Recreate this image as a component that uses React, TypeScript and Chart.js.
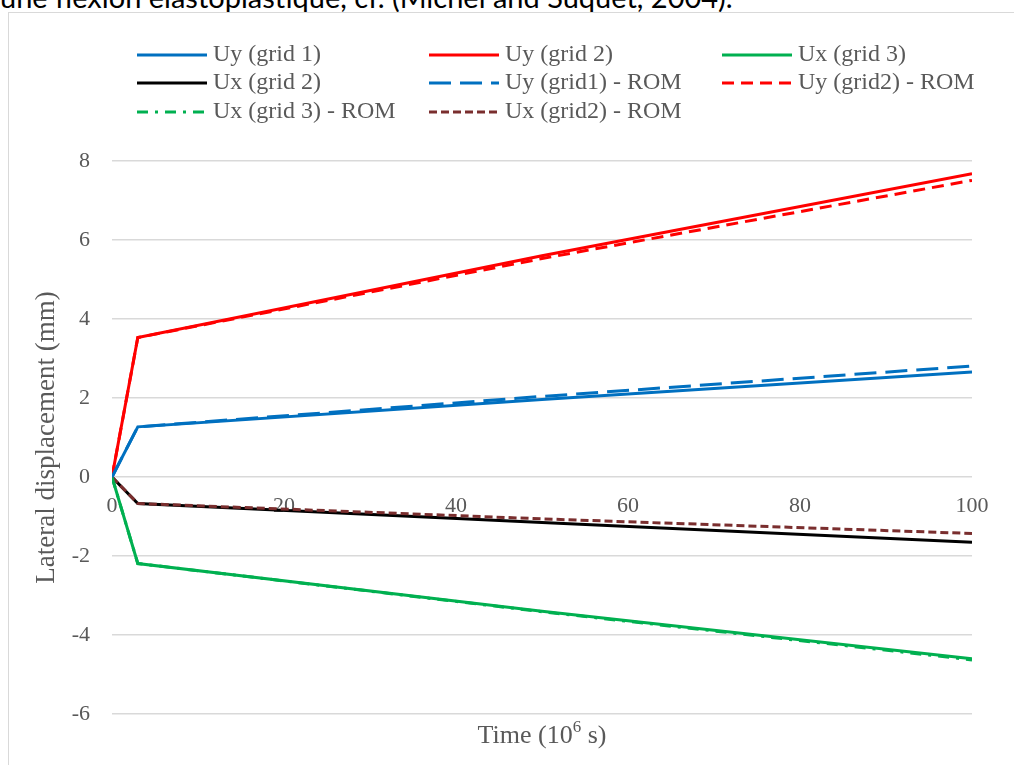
import React, { useEffect, useRef } from "react";
import { Chart, registerables } from "chart.js";

Chart.register(...registerables);

// ---- data ----
const TIMES = [0, 3, 50, 100];
const UY_GRID1 = [0, 1.27, 1.96, 2.66];
const UY_GRID2 = [0, 3.53, 5.6, 7.68];
const UX_GRID3 = [0, -2.19, -3.4, -4.6];
const UX_GRID2 = [0, -0.67, -1.15, -1.65];
const UY_GRID1_ROM = [0, 1.27, 2.04, 2.81];
const UY_GRID2_ROM = [0, 3.53, 5.53, 7.51];
const UX_GRID3_ROM = [0, -2.19, -3.41, -4.63];
const UX_GRID2_ROM = [0, -0.67, -1.06, -1.43];

const SERIES_LABELS = [
  "Uy (grid 1)",
  "Uy (grid 2)",
  "Ux (grid 3)",
  "Ux (grid 2)",
  "Uy (grid1) - ROM",
  "Uy (grid2) - ROM",
  "Ux (grid 3) - ROM",
  "Ux (grid2) - ROM",
];

const X_MIN = 0;
const X_MAX = 100;
const X_STEP = 20;
const Y_MIN = -6;
const Y_MAX = 8;
const Y_STEP = 2;

const X_TITLE_MAIN = "Time (10";
const X_TITLE_SUP = "6";
const X_TITLE_END = " s)";
const Y_TITLE = "Lateral displacement (mm)";
const PAGE_TEXT = "une flexion élastoplastique, cf. (Michel and Suquet, 2004).";

// ---- styles ----
const SERIF = "'Liberation Serif', 'Times New Roman', serif";
const TEXT_COLOR = "#595959";
const GRID_COLOR = "#d9d9d9";

const STYLES = [
  { color: "#0070C0", dash: [] as number[], order: 2 },
  { color: "#FF0000", dash: [], order: 2 },
  { color: "#00B050", dash: [], order: 2 },
  { color: "#000000", dash: [], order: 2 },
  { color: "#0070C0", dash: [22, 9], order: 1 },
  { color: "#FF0000", dash: [12, 7], order: 1 },
  { color: "#00B050", dash: [11, 7, 3, 7], order: 1 },
  { color: "#7a2e2e", dash: [8, 4], order: 1 },
];

const LEGEND_LINE_X = [137, 429, 722];
const LEGEND_ROW_Y = [55, 83, 112];

const overlayPlugin = {
  id: "overlay",
  afterDraw(chart: any) {
    const ctx = chart.ctx as CanvasRenderingContext2D;
    ctx.save();
    chart.data.datasets.forEach((ds: any, i: number) => {
      const col = i % 3;
      const row = Math.floor(i / 3);
      const x0 = LEGEND_LINE_X[col];
      const y = LEGEND_ROW_Y[row];
      ctx.beginPath();
      ctx.setLineDash(ds.borderDash || []);
      ctx.lineWidth = ds.borderWidth;
      ctx.strokeStyle = ds.borderColor;
      ctx.lineCap = "butt";
      ctx.moveTo(x0, y);
      ctx.lineTo(x0 + 70, y);
      ctx.stroke();
      ctx.setLineDash([]);
      ctx.fillStyle = TEXT_COLOR;
      ctx.font = `24px ${SERIF}`;
      ctx.textBaseline = "middle";
      ctx.textAlign = "left";
      ctx.fillText(ds.label, x0 + 76, y);
    });

    // x axis title with superscript
    const area = chart.chartArea;
    const cx = (area.left + area.right) / 2;
    const cy = 736;
    const bigFont = `26px ${SERIF}`;
    const smallFont = `17px ${SERIF}`;
    ctx.font = bigFont;
    const w1 = ctx.measureText(X_TITLE_MAIN).width;
    const w3 = ctx.measureText(X_TITLE_END).width;
    ctx.font = smallFont;
    const w2 = ctx.measureText(X_TITLE_SUP).width;
    let x = cx - (w1 + w2 + w3) / 2;
    ctx.fillStyle = TEXT_COLOR;
    ctx.textBaseline = "middle";
    ctx.textAlign = "left";
    ctx.font = bigFont;
    ctx.fillText(X_TITLE_MAIN, x, cy);
    x += w1;
    ctx.font = smallFont;
    ctx.fillText(X_TITLE_SUP, x, cy - 8);
    x += w2;
    ctx.font = bigFont;
    ctx.fillText(X_TITLE_END, x, cy);
    ctx.restore();
  },
};

export default function App() {
  const canvasRef = useRef<HTMLCanvasElement | null>(null);

  useEffect(() => {
    const canvas = canvasRef.current;
    if (!canvas) return;
    const seriesValues = [
      UY_GRID1,
      UY_GRID2,
      UX_GRID3,
      UX_GRID2,
      UY_GRID1_ROM,
      UY_GRID2_ROM,
      UX_GRID3_ROM,
      UX_GRID2_ROM,
    ];
    const datasets = seriesValues.map((vals, i) => ({
      label: SERIES_LABELS[i],
      data: TIMES.map((t, j) => ({ x: t, y: vals[j] })),
      borderColor: STYLES[i].color,
      backgroundColor: STYLES[i].color,
      borderDash: STYLES[i].dash,
      borderWidth: 3,
      pointRadius: 0,
      fill: false,
      tension: 0,
      order: STYLES[i].order,
    }));

    const chart = new Chart(canvas, {
      type: "line",
      data: { datasets },
      plugins: [overlayPlugin],
      options: {
        animation: false,
        responsive: false,
        devicePixelRatio: 1,
        layout: { padding: { left: 0, right: 42, top: 161, bottom: 51 } },
        plugins: {
          legend: { display: false },
          tooltip: { enabled: false },
        },
        scales: {
          x: {
            type: "linear",
            position: { y: 0 } as any,
            min: X_MIN,
            max: X_MAX,
            grid: { display: false, drawTicks: false },
            border: { display: false },
            ticks: {
              stepSize: X_STEP,
              padding: 16,
              color: TEXT_COLOR,
              font: { family: SERIF, size: 22 },
              maxRotation: 0,
            },
          },
          y: {
            type: "linear",
            min: Y_MIN,
            max: Y_MAX,
            afterFit: (scale: any) => {
              scale.width = 112;
            },
            grid: { color: GRID_COLOR, lineWidth: 1.5, drawTicks: false },
            border: { display: false },
            ticks: {
              stepSize: Y_STEP,
              padding: 22,
              color: TEXT_COLOR,
              font: { family: SERIF, size: 22 },
            },
            title: {
              display: true,
              text: Y_TITLE,
              color: TEXT_COLOR,
              font: { family: SERIF, size: 27, weight: "normal" },
              padding: { top: 31, bottom: 0 },
            },
          },
        },
      },
    });

    let alive = true;
    const fonts: any = (document as any).fonts;
    if (fonts && fonts.load) {
      Promise.all([
        fonts.load(`24px 'Liberation Serif'`),
        fonts.load(`22px 'Liberation Serif'`),
        fonts.load(`27px 'Liberation Serif'`),
      ])
        .then(() => fonts.ready)
        .then(() => {
          if (alive) chart.update();
        })
        .catch(() => {});
    }
    return () => {
      alive = false;
      chart.destroy();
    };
  }, []);

  return (
    <div
      style={{
        position: "absolute",
        left: 0,
        top: 0,
        width: 1014,
        height: 765,
        overflow: "hidden",
        background: "#fff",
      }}
    >
      <span
        style={{
          position: "absolute",
          left: -100,
          top: -100,
          fontFamily: SERIF,
          fontSize: 22,
        }}
      >
        Uy
      </span>
      <div
        style={{
          position: "absolute",
          left: 0,
          top: -18,
          whiteSpace: "nowrap",
          fontFamily: "Lato, 'Open Sans', sans-serif",
          fontSize: 29,
          lineHeight: "29px",
          color: "#000",
        }}
      >
        {PAGE_TEXT}
      </div>
      <div
        style={{
          position: "absolute",
          left: 8,
          top: 12,
          width: 1100,
          height: 800,
          border: `1px solid ${GRID_COLOR}`,
          boxSizing: "border-box",
        }}
      />
      <canvas
        ref={canvasRef}
        width={1014}
        height={765}
        style={{ position: "absolute", left: 0, top: 0, display: "block" }}
      />
    </div>
  );
}
